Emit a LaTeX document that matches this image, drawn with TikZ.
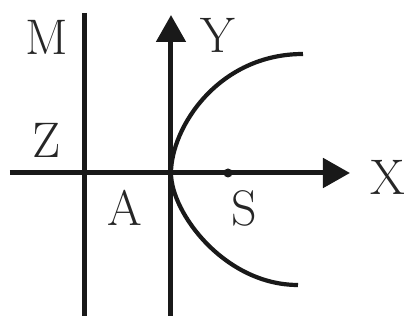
\documentclass[tikz,border=0pt]{standalone}
\usetikzlibrary{arrows.meta}
\begin{document}
\begin{tikzpicture}[x=0.5pt,y=-0.5pt,
  axis/.style={line width=2.5pt,color=black!90},
  curvestyle/.style={line width=2.1pt,color=black!90},
  lbl/.style={font=\fontsize{25}{29}\selectfont, inner sep=0pt, text=black!85},
  tipstyle/.style={-{Triangle[length=13.5pt,width=14.5pt]}}]
\useasboundingbox (0,0) rectangle (409,320);
\coordinate (mtop) at (85,13);
\coordinate (mbot) at (85,316);
\coordinate (ybot) at (171,316);
\coordinate (ytop) at (171,15);
\coordinate (xl) at (10,173);
\coordinate (xr) at (350,173);
\coordinate (o) at (171,173);
\coordinate (ct) at (303,54);
\coordinate (cb) at (298,285);
\draw[axis] (mtop) -- (mbot);
\draw[axis,tipstyle] (ybot) -- (ytop);
\draw[axis,tipstyle] (xl) -- (xr);
\draw[curvestyle] (ct) .. controls (218,54) and (171,128) .. (o) .. controls (171,213) and (225,285) .. (cb);
\node[circle,fill=black!90,inner sep=0pt,minimum size=4.5pt] (s) at (228,173) {};
\node[lbl] (lm) at (47,37) {M};
\node[lbl] (ly) at (218,35) {Y};
\node[lbl] (lz) at (47,140) {Z};
\node[lbl] (la) at (125,208) {A};
\node[lbl] (ls) at (244,208) {S};
\node[lbl] (lx) at (388,177) {X};
\end{tikzpicture}
\end{document}
